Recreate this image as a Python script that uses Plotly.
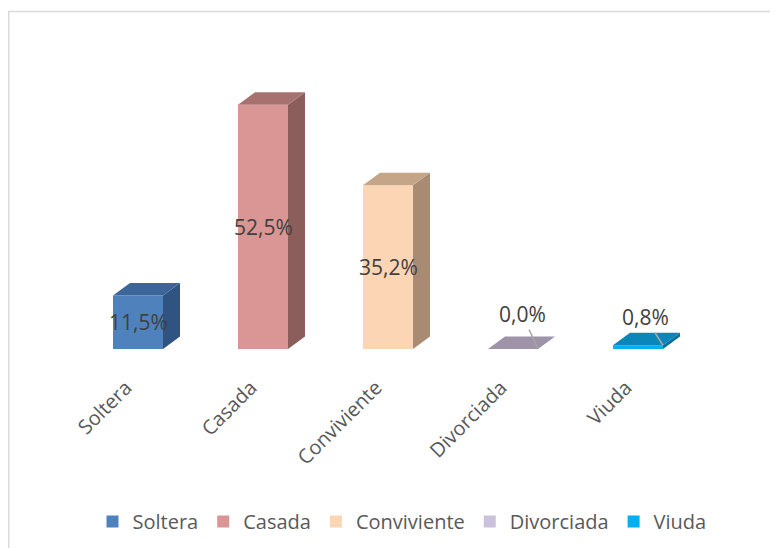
import plotly.graph_objects as go

categories = ["Soltera", "Casada", "Conviviente", "Divorciada", "Viuda"]
values = [11.5, 52.5, 35.2, 0.0, 0.8]
labels = ["11,5%", "52,5%", "35,2%", "0,0%", "0,8%"]

front_colors = ["#4F81BD", "#D99694", "#FCD5B5", "#CCC1DA", "#00B0F0"]
top_colors = ["#3C6699", "#A6716F", "#C4A588", "#9E93A8", "#0A86B8"]
side_colors = ["#2F5482", "#8B5E5C", "#A88B72", "#877D90", "#0A6F99"]

# leader-line label offsets (pixels) for small values
label_ax = [0, 0, 0, -16, -18]
label_ay = [0, 0, 0, -35, -28]

W = 0.4      # bar width (x units)
DX = 0.136   # depth offset x
DY = 2.69    # depth offset y

fig = go.Figure()

for i, (c, v) in enumerate(zip(categories, values)):
    fig.add_trace(go.Bar(
        x=[i], y=[v], width=W, name=c,
        marker=dict(color=front_colors[i], line=dict(width=0)),
        hoverinfo="skip", showlegend=True,
    ))

for i, v in enumerate(values):
    x0, x1 = i - W / 2, i + W / 2
    fig.add_trace(go.Scatter(
        x=[x1, x1 + DX, x1 + DX, x1, x1],
        y=[0, DY, v + DY, v, 0],
        fill="toself", fillcolor=side_colors[i], mode="lines",
        line=dict(width=0), hoverinfo="skip", showlegend=False,
    ))
    fig.add_trace(go.Scatter(
        x=[x0, x1, x1 + DX, x0 + DX, x0],
        y=[v, v, v + DY, v + DY, v],
        fill="toself", fillcolor=top_colors[i], mode="lines",
        line=dict(width=0), hoverinfo="skip", showlegend=False,
    ))

annotations = []
for i, (v, t) in enumerate(zip(values, labels)):
    if v >= 5:
        annotations.append(dict(
            x=i, y=v / 2, text=t, showarrow=False,
            font=dict(family="Open Sans", size=21, color="#404040"),
        ))
    else:
        annotations.append(dict(
            x=i + W / 2, y=v, text=t, showarrow=True,
            arrowhead=0, arrowwidth=1.5, arrowcolor="#A6A6A6",
            ax=label_ax[i], ay=label_ay[i], standoff=0, startstandoff=0,
            font=dict(family="Open Sans", size=21, color="#404040"),
        ))

# page body has an 8px default margin; compensate
OFF = 8
L, R, T, B = 50 - OFF, 38 + OFF, 30 - OFF, 183 + OFF
PW = 778 - L - R
PH = 548 - T - B


def px_to_paper_x(px):
    return (px - OFF - L) / PW


def px_to_paper_y(py):
    return (548 - B - (py - OFF)) / PH


fig.add_shape(
    type="rect", xref="paper", yref="paper",
    x0=px_to_paper_x(OFF + 0.8), x1=px_to_paper_x(800),
    y0=px_to_paper_y(570), y1=px_to_paper_y(11.5),
    line=dict(color="#D9D9D9", width=1.5), fillcolor="rgba(0,0,0,0)",
    layer="below",
)

fig.update_layout(
    width=778, height=548,
    margin=dict(l=L, r=R, t=T, b=B),
    paper_bgcolor="white", plot_bgcolor="white",
    barmode="overlay",
    xaxis=dict(
        range=[-0.704, 4.816], tickmode="array",
        tickvals=list(range(len(categories))), ticktext=categories,
        tickangle=-45, showgrid=False, zeroline=False, showline=False,
        ticks="", tickfont=dict(family="Open Sans", size=20, color="#595959"),
        ticklabelshift=-12, ticklabelstandoff=6,
        fixedrange=True,
    ),
    yaxis=dict(
        range=[-3.44, 68.6], visible=False, showgrid=False, zeroline=False,
        fixedrange=True,
    ),
    legend=dict(
        orientation="h", x=px_to_paper_x(402), xanchor="center",
        y=px_to_paper_y(502), yanchor="top",
        font=dict(family="Open Sans", size=20, color="#595959"),
        traceorder="normal", itemwidth=30,
    ),
    annotations=annotations,
    showlegend=True,
)

fig.write_html("out.html", config={"displayModeBar": False})
